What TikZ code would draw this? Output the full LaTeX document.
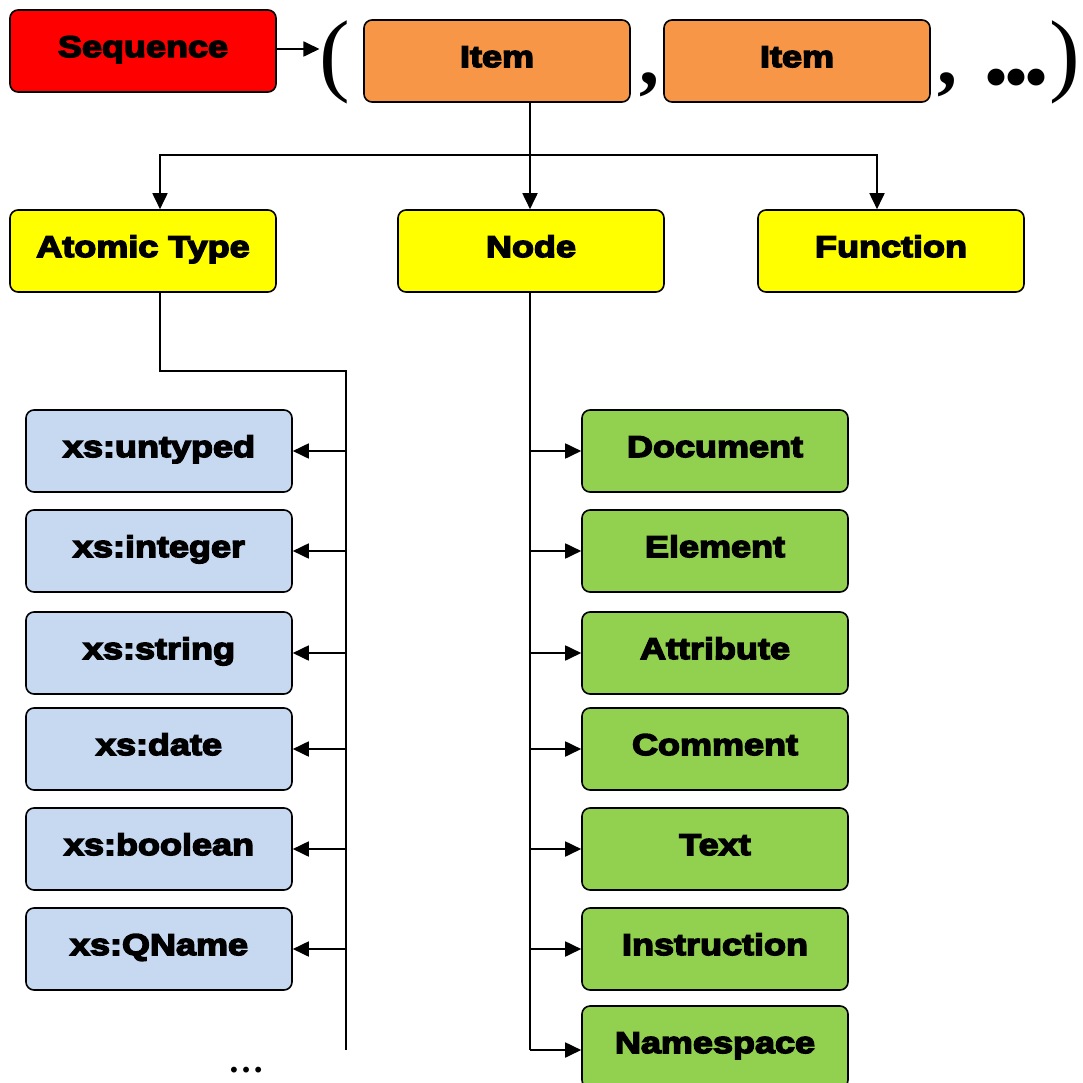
\documentclass[tikz,border=0pt]{standalone}
\usepackage{fontspec}
\usetikzlibrary{arrows.meta}
\newfontfamily\boxfont[FakeStretch=1.2,BoldFeatures={FakeBold=5}]{Liberation Sans}
\newfontfamily\parenfont{Liberation Serif}
\definecolor{seqred}{HTML}{FF0000}
\definecolor{itemorange}{HTML}{F79646}
\definecolor{kindyellow}{HTML}{FFFF00}
\definecolor{atomblue}{HTML}{C6D9F1}
\definecolor{nodegreen}{HTML}{92D050}
\tikzset{
  box/.style={draw, line width=1.6pt, rounded corners=8pt, minimum width=266pt,
    minimum height=82pt, inner sep=0pt, text height=22pt, text depth=10pt,
    font=\boxfont\bfseries\fontsize{30}{36}\selectfont},
  wire/.style={line width=1.8pt},
  arr/.style={wire, -{Triangle[length=16pt,width=15pt]}},
  bigparen/.style={font=\parenfont\fontsize{92}{92}\selectfont, inner sep=0pt, anchor=base},
  seqpunct/.style={font=\parenfont\bfseries\fontsize{80}{80}\selectfont, inner sep=0pt,
    anchor=base west, text height=16pt, text depth=15pt},
}
% heavy ellipsis with round dots set 20pt apart
\newcommand\bigdots{\smash{\fontsize{104}{104}\selectfont.\kern-6pt.\kern-6pt.}}
\begin{document}
\begin{tikzpicture}[x=1pt,y=-1pt]
\useasboundingbox (0,0) rectangle (1082,1083);
\begin{scope}
\clip (0,0) rectangle (1082,1083);

% top row: sequence of items
\node[box, fill=seqred] (seq) at (143,51) {Sequence};
\node[box, fill=itemorange] (item1) at (497,61) {Item};
\node[box, fill=itemorange] (item2) at (797,61) {Item};
\node[bigparen] (lpar) at (335,85) {(};
\node[seqpunct] (comma1) at (639,85) {,};
\node[seqpunct] (rest) at (937,85) {,\kern26pt\bigdots};
\node[bigparen] (rpar) at (1065,85) {)};
\draw[arr] (seq.east |- 0,49) -- (lpar.west |- 0,49);

% item kinds
\node[box, fill=kindyellow] (atomic) at (143,251) {Atomic Type};
\node[box, fill=kindyellow] (node) at (531,251) {Node};
\node[box, fill=kindyellow] (func) at (891,251) {Function};

\coordinate (split) at (530,155);
\draw[wire] (item1.south -| split) -- (split);
\draw[arr] (split) -| ([xshift=17pt]atomic.north);
\draw[arr] (split) -- (node.north -| split);
\draw[arr] (split) -| ([xshift=-14pt]func.north);

% atomic types
\node[box, fill=atomblue] (untyped) at (159,451) {xs:untyped};
\node[box, fill=atomblue] (integer) at (159,551) {xs:integer};
\node[box, fill=atomblue] (string)  at (159,653) {xs:string};
\node[box, fill=atomblue] (date)    at (159,749) {xs:date};
\node[box, fill=atomblue] (boolean) at (159,849) {xs:boolean};
\node[box, fill=atomblue] (qname)   at (159,949) {xs:QName};
\node[font=\parenfont\bfseries\fontsize{36}{36}\selectfont, inner sep=0pt, anchor=base] (more) at (246,1072) {…};

\coordinate (abend) at (160,371);
\coordinate (abus) at (346,371);
\coordinate (abusend) at (346,1050);
\draw[wire] ([xshift=17pt]atomic.south) -- (abend) -- (abus) -- (abusend);
\foreach \t in {untyped,integer,string,date,boolean,qname}
  \draw[arr] (abus |- \t.east) -- (\t.east);

% node kinds
\node[box, fill=nodegreen] (document)    at (715,451) {Document};
\node[box, fill=nodegreen] (element)     at (715,551) {Element};
\node[box, fill=nodegreen] (attribute)   at (715,653) {Attribute};
\node[box, fill=nodegreen] (comment)     at (715,749) {Comment};
\node[box, fill=nodegreen] (text)        at (715,849) {Text};
\node[box, fill=nodegreen] (instruction) at (715,949) {Instruction};
\node[box, fill=nodegreen] (namespace)   at (715,1047) {Namespace};

\coordinate (nbus) at (530,292);
\coordinate (nbusend) at (530,1050);
\draw[wire] (node.south -| nbus) -- (nbusend);
\foreach \t in {document,element,attribute,comment,text,instruction}
  \draw[arr] (nbus |- \t.west) -- (\t.west);
\draw[arr] (nbusend) -- (namespace.west |- nbusend);
\end{scope}
\end{tikzpicture}
\end{document}
